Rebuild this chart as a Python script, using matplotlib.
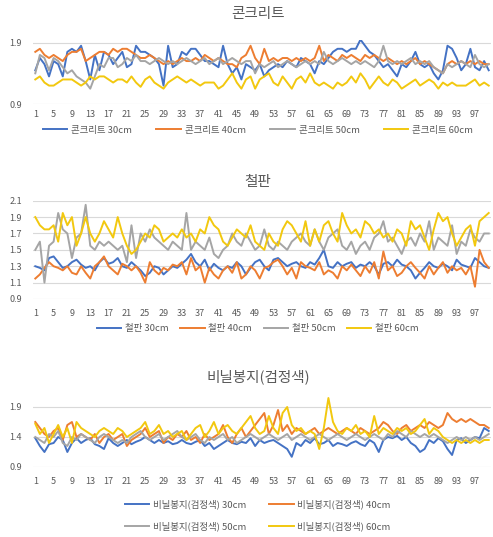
import matplotlib
matplotlib.use("Agg")
import matplotlib.pyplot as plt
import numpy as np

plt.rcParams['font.family'] = ['Noto Sans CJK KR', 'DejaVu Sans']

x = np.arange(1, 101)
tick_pos = list(range(1, 101, 4))
tick_labels = [str(t) for t in tick_pos]

# 콘크리트
con_30 = [1.45, 1.65, 1.55, 1.35, 1.60, 1.55, 1.35, 1.75, 1.80, 1.75,
          1.85, 1.60, 1.30, 1.70, 1.45, 1.75, 1.70, 1.55, 1.65, 1.75,
          1.50, 1.55, 1.85, 1.75, 1.75, 1.70, 1.65, 1.55, 1.20, 1.85,
          1.50, 1.55, 1.75, 1.70, 1.80, 1.80, 1.70, 1.60, 1.60, 1.55,
          1.50, 1.85, 1.55, 1.40, 1.50, 1.30, 1.55, 1.50, 1.45, 1.55,
          1.35, 1.45, 1.50, 1.55, 1.50, 1.60, 1.55, 1.50, 1.65, 1.60,
          1.55, 1.40, 1.60, 1.55, 1.65, 1.75, 1.80, 1.80, 1.75, 1.80,
          1.80, 1.95, 1.85, 1.75, 1.70, 1.60, 1.50, 1.55, 1.45, 1.35,
          1.55, 1.50, 1.60, 1.75, 1.55, 1.50, 1.55, 1.40, 1.30, 1.45,
          1.85, 1.80, 1.65, 1.45, 1.55, 1.80, 1.50, 1.45, 1.60, 1.45]
con_40 = [1.75, 1.80, 1.70, 1.65, 1.70, 1.65, 1.60, 1.70, 1.75, 1.75,
          1.80, 1.60, 1.65, 1.70, 1.75, 1.75, 1.70, 1.80, 1.75, 1.80,
          1.80, 1.75, 1.70, 1.65, 1.65, 1.70, 1.65, 1.60, 1.55, 1.60,
          1.55, 1.60, 1.65, 1.60, 1.60, 1.65, 1.60, 1.70, 1.65, 1.60,
          1.65, 1.60, 1.55, 1.55, 1.50, 1.65, 1.70, 1.85, 1.65, 1.55,
          1.80, 1.60, 1.65, 1.60, 1.65, 1.65, 1.60, 1.65, 1.60, 1.65,
          1.60, 1.65, 1.85, 1.60, 1.70, 1.65, 1.60, 1.70, 1.65, 1.70,
          1.65, 1.60, 1.70, 1.65, 1.70, 1.65, 1.60, 1.65, 1.60, 1.55,
          1.60, 1.55, 1.60, 1.65, 1.55, 1.60, 1.55, 1.50, 1.45, 1.40,
          1.55, 1.60, 1.55, 1.60, 1.55, 1.60, 1.55, 1.60, 1.55, 1.55]
con_50 = [1.40, 1.70, 1.65, 1.45, 1.65, 1.60, 1.50, 1.40, 1.45, 1.35,
          1.30, 1.25, 1.15, 1.35, 1.55, 1.50, 1.65, 1.65, 1.50, 1.55,
          1.65, 1.60, 1.70, 1.60, 1.60, 1.55, 1.60, 1.65, 1.60, 1.55,
          1.60, 1.55, 1.60, 1.65, 1.60, 1.55, 1.60, 1.65, 1.55, 1.60,
          1.65, 1.55, 1.60, 1.65, 1.60, 1.55, 1.60, 1.60, 1.40, 1.55,
          1.50, 1.55, 1.60, 1.50, 1.55, 1.60, 1.55, 1.50, 1.55, 1.60,
          1.55, 1.60, 1.55, 1.75, 1.60, 1.55, 1.60, 1.65, 1.60, 1.55,
          1.60, 1.55, 1.60, 1.55, 1.50, 1.60, 1.85, 1.60, 1.55, 1.60,
          1.55, 1.60, 1.65, 1.55, 1.60, 1.55, 1.60, 1.50, 1.45, 1.40,
          1.55, 1.50, 1.55, 1.60, 1.55, 1.50, 1.70, 1.55, 1.50, 1.55]
con_60 = [1.30, 1.35, 1.25, 1.20, 1.20, 1.25, 1.30, 1.30, 1.30, 1.25,
          1.20, 1.25, 1.35, 1.30, 1.35, 1.35, 1.30, 1.25, 1.30, 1.30,
          1.25, 1.35, 1.25, 1.18, 1.30, 1.35, 1.25, 1.20, 1.15, 1.25,
          1.30, 1.35, 1.30, 1.25, 1.30, 1.25, 1.20, 1.25, 1.25, 1.25,
          1.15, 1.20, 1.30, 1.40, 1.25, 1.15, 1.30, 1.35, 1.15, 1.30,
          1.35, 1.40, 1.25, 1.20, 1.35, 1.25, 1.15, 1.30, 1.35, 1.25,
          1.40, 1.25, 1.20, 1.25, 1.20, 1.15, 1.25, 1.20, 1.25, 1.35,
          1.25, 1.40, 1.30, 1.15, 1.25, 1.35, 1.25, 1.20, 1.30, 1.25,
          1.15, 1.20, 1.25, 1.30, 1.20, 1.25, 1.30, 1.25, 1.15, 1.25,
          1.20, 1.25, 1.20, 1.20, 1.20, 1.25, 1.30, 1.20, 1.25, 1.20]

# 철판
steel_30 = [1.30, 1.28, 1.25, 1.40, 1.42, 1.35, 1.28, 1.30, 1.35, 1.38,
            1.32, 1.28, 1.30, 1.25, 1.35, 1.40, 1.33, 1.35, 1.40, 1.30,
            1.28, 1.35, 1.30, 1.25, 1.18, 1.22, 1.30, 1.28, 1.20, 1.25,
            1.30, 1.28, 1.33, 1.38, 1.45, 1.35, 1.30, 1.38, 1.25, 1.33,
            1.28, 1.25, 1.30, 1.28, 1.35, 1.30, 1.20, 1.28, 1.35, 1.38,
            1.30, 1.25, 1.38, 1.40, 1.35, 1.30, 1.33, 1.35, 1.30, 1.28,
            1.35, 1.32, 1.40, 1.50, 1.30, 1.28, 1.35, 1.30, 1.33, 1.35,
            1.28, 1.32, 1.30, 1.35, 1.30, 1.20, 1.33, 1.35, 1.30, 1.38,
            1.32, 1.30, 1.25, 1.15, 1.22, 1.28, 1.35, 1.30, 1.28, 1.33,
            1.30, 1.25, 1.38, 1.32, 1.30, 1.28, 1.40, 1.35, 1.30, 1.28]
steel_40 = [1.15, 1.20, 1.28, 1.35, 1.30, 1.28, 1.25, 1.30, 1.22, 1.20,
            1.30, 1.22, 1.15, 1.30, 1.35, 1.42, 1.30, 1.25, 1.20, 1.33,
            1.30, 1.25, 1.30, 1.22, 1.10, 1.35, 1.25, 1.20, 1.28, 1.25,
            1.32, 1.30, 1.35, 1.20, 1.40, 1.25, 1.30, 1.10, 1.28, 1.20,
            1.15, 1.25, 1.30, 1.22, 1.35, 1.15, 1.20, 1.30, 1.25, 1.15,
            1.28, 1.30, 1.35, 1.38, 1.30, 1.20, 1.28, 1.15, 1.35, 1.30,
            1.28, 1.25, 1.35, 1.20, 1.25, 1.22, 1.15, 1.30, 1.25, 1.32,
            1.25, 1.18, 1.30, 1.22, 1.35, 1.15, 1.48, 1.25, 1.30, 1.18,
            1.22, 1.30, 1.35, 1.28, 1.22, 1.15, 1.30, 1.20, 1.28, 1.35,
            1.22, 1.30, 1.25, 1.28, 1.20, 1.30, 1.05, 1.50, 1.35, 1.28]
steel_50 = [1.50, 1.60, 1.10, 1.55, 1.60, 1.95, 1.75, 1.70, 1.40, 1.65,
            1.70, 2.05, 1.55, 1.50, 1.60, 1.55, 1.60, 1.55, 1.50, 1.55,
            1.35, 1.80, 1.40, 1.70, 1.60, 1.75, 1.65, 1.60, 1.55, 1.50,
            1.60, 1.55, 1.50, 1.95, 1.50, 1.60, 1.55, 1.50, 1.65, 1.45,
            1.40, 1.50, 1.55, 1.70, 1.60, 1.55, 1.70, 1.60, 1.50, 1.55,
            1.75, 1.55, 1.50, 1.60, 1.55, 1.50, 1.60, 1.65, 1.70, 1.60,
            1.55, 1.75, 1.60, 1.50, 1.65, 1.70, 1.75, 1.55, 1.50, 1.60,
            1.45, 1.55, 1.60, 1.50, 1.65, 1.70, 1.85, 1.60, 1.65, 1.55,
            1.45, 1.60, 1.65, 1.55, 1.70, 1.60, 1.85, 1.50, 1.65, 1.60,
            1.55, 1.80, 1.45, 1.60, 1.55, 1.75, 1.65, 1.60, 1.70, 1.70]
steel_60 = [1.90, 1.80, 1.75, 1.75, 1.80, 1.60, 1.95, 1.80, 1.90, 1.55,
            1.70, 1.90, 1.70, 1.60, 1.70, 1.85, 1.75, 1.65, 1.90, 1.70,
            1.55, 1.45, 1.50, 1.60, 1.70, 1.65, 1.80, 1.75, 1.60, 1.65,
            1.70, 1.65, 1.75, 1.65, 1.70, 1.60, 1.75, 1.70, 1.90, 1.80,
            1.75, 1.60, 1.55, 1.65, 1.75, 1.70, 1.65, 1.80, 1.60, 1.55,
            1.50, 1.70, 1.60, 1.55, 1.75, 1.85, 1.80, 1.70, 1.60, 1.85,
            1.55, 1.75, 1.60, 1.80, 1.85, 1.70, 1.60, 1.95, 1.80, 1.70,
            1.75, 1.65, 1.85, 1.80, 1.70, 1.75, 1.65, 1.70, 1.60, 1.75,
            1.70, 1.55, 1.85, 1.75, 1.80, 1.65, 1.50, 1.75, 1.95, 1.85,
            1.90, 1.70, 1.55, 1.65, 1.75, 1.80, 1.55, 1.85, 1.90, 1.95]

# 비닐봉지(검정색)
vinyl_30 = [1.38, 1.25, 1.15, 1.28, 1.30, 1.40, 1.35, 1.15, 1.30, 1.38,
            1.30, 1.35, 1.38, 1.28, 1.25, 1.20, 1.38, 1.30, 1.25, 1.30,
            1.35, 1.28, 1.32, 1.35, 1.40, 1.35, 1.30, 1.35, 1.30, 1.33,
            1.28, 1.30, 1.35, 1.30, 1.28, 1.32, 1.35, 1.25, 1.30, 1.20,
            1.25, 1.30, 1.35, 1.30, 1.28, 1.32, 1.30, 1.38, 1.25, 1.35,
            1.30, 1.33, 1.35, 1.30, 1.25, 1.20, 1.07, 1.30, 1.25, 1.35,
            1.30, 1.38, 1.28, 1.30, 1.35, 1.25, 1.30, 1.28, 1.25, 1.30,
            1.33, 1.28, 1.25, 1.35, 1.30, 1.15, 1.35, 1.40, 1.38, 1.42,
            1.35, 1.40, 1.30, 1.25, 1.15, 1.20, 1.35, 1.30, 1.38, 1.33,
            1.20, 1.10, 1.35, 1.38, 1.30, 1.35, 1.40, 1.38, 1.55, 1.50]
vinyl_40 = [1.65, 1.55, 1.45, 1.40, 1.50, 1.55, 1.35, 1.60, 1.65, 1.40,
            1.45, 1.40, 1.35, 1.45, 1.30, 1.40, 1.45, 1.35, 1.40, 1.45,
            1.25, 1.35, 1.40, 1.45, 1.55, 1.40, 1.45, 1.50, 1.30, 1.40,
            1.35, 1.45, 1.40, 1.50, 1.35, 1.40, 1.30, 1.45, 1.35, 1.40,
            1.45, 1.60, 1.40, 1.30, 1.45, 1.55, 1.40, 1.50, 1.60, 1.70,
            1.80, 1.45, 1.60, 1.85, 1.50, 1.60, 1.45, 1.55, 1.50, 1.45,
            1.50, 1.55, 1.45, 1.50, 1.55, 1.50, 1.45, 1.50, 1.55, 1.50,
            1.45, 1.55, 1.50, 1.45, 1.50, 1.55, 1.65, 1.60, 1.50, 1.45,
            1.55, 1.60, 1.50, 1.55, 1.60, 1.55, 1.65, 1.60, 1.55, 1.60,
            1.80, 1.70, 1.65, 1.70, 1.65, 1.70, 1.65, 1.60, 1.60, 1.55]
vinyl_50 = [1.40, 1.35, 1.30, 1.45, 1.40, 1.50, 1.30, 1.25, 1.40, 1.35,
            1.45, 1.40, 1.35, 1.30, 1.40, 1.45, 1.40, 1.35, 1.30, 1.35,
            1.30, 1.40, 1.45, 1.50, 1.40, 1.35, 1.40, 1.45, 1.35, 1.40,
            1.45, 1.50, 1.40, 1.35, 1.40, 1.45, 1.35, 1.30, 1.40, 1.35,
            1.40, 1.45, 1.35, 1.40, 1.30, 1.35, 1.40, 1.45, 1.40, 1.35,
            1.40, 1.45, 1.40, 1.35, 1.40, 1.45, 1.35, 1.40, 1.45, 1.40,
            1.35, 1.40, 1.45, 1.40, 1.35, 1.40, 1.45, 1.40, 1.35, 1.40,
            1.45, 1.40, 1.35, 1.40, 1.45, 1.40, 1.35, 1.45, 1.40, 1.50,
            1.45, 1.40, 1.50, 1.45, 1.40, 1.45, 1.40, 1.45, 1.40, 1.35,
            1.30, 1.35, 1.40, 1.35, 1.40, 1.35, 1.40, 1.35, 1.40, 1.45]
vinyl_60 = [1.62, 1.45, 1.55, 1.30, 1.45, 1.60, 1.40, 1.55, 1.30, 1.65,
            1.55, 1.50, 1.45, 1.40, 1.50, 1.55, 1.50, 1.45, 1.55, 1.50,
            1.40, 1.45, 1.50, 1.55, 1.65, 1.45, 1.50, 1.60, 1.45, 1.50,
            1.40, 1.45, 1.50, 1.35, 1.45, 1.55, 1.60, 1.40, 1.50, 1.65,
            1.45, 1.55, 1.60, 1.50, 1.45, 1.55, 1.65, 1.75, 1.55, 1.45,
            1.50, 1.75, 1.55, 1.45, 1.80, 1.90, 1.60, 1.50, 1.55, 1.45,
            1.50, 1.45, 1.20, 1.55, 2.05, 1.65, 1.50, 1.45, 1.55, 1.50,
            1.60, 1.45, 1.50, 1.40, 1.75, 1.45, 1.55, 1.50, 1.45, 1.55,
            1.50, 1.55, 1.45, 1.50, 1.60, 1.70, 1.45, 1.55, 1.50, 1.40,
            1.35, 1.30, 1.35, 1.30, 1.35, 1.30, 1.35, 1.30, 1.35, 1.35]

colors = ['#4472C4', '#ED7D31', '#A5A5A5', '#F2C80F']
text_color = '#595959'
W, H = 493, 537

fig = plt.figure(figsize=(W / 100, H / 100), dpi=100)


def add_chart(top_px, bottom_px, ylim, yticks, series, names, title, title_y,
              legend_y, ncol, xpad, colspace, rowspace=0.7):
    # axes placed in pixel coordinates of the original picture
    left, right = 33, 491
    ax = fig.add_axes([left / W, 1 - bottom_px / H, (right - left) / W,
                       (bottom_px - top_px) / H])
    for s, c, n in zip(series, colors, names):
        ax.plot(x, s, color=c, lw=1.4, label=n, solid_joinstyle='round')
    ax.set_xlim(0.5, 100.5)
    ax.set_ylim(*ylim)
    ax.set_yticks(yticks)
    ax.set_yticklabels([f"{v:.1f}" for v in yticks])
    ax.set_xticks(tick_pos)
    ax.set_xticklabels(tick_labels)
    ax.tick_params(axis='both', length=0, labelsize=6.5, colors=text_color)
    ax.tick_params(axis='x', pad=xpad)
    ax.tick_params(axis='y', pad=8)
    ax.grid(axis='y', color='#D9D9D9', lw=0.8)
    ax.set_axisbelow(True)
    for sp in ax.spines.values():
        sp.set_visible(False)
    fig.text(0.523, 1 - title_y / H, title, ha='center', va='center',
             fontsize=10.5, color=text_color)
    handles, labels = ax.get_legend_handles_labels()
    if ncol == 2:
        # rows: 30cm 40cm / 50cm 60cm
        order = [0, 2, 1, 3]
        handles = [handles[i] for i in order]
        labels = [labels[i] for i in order]
    fig.legend(handles, labels, loc='center', ncol=ncol,
               bbox_to_anchor=(0.523, 1 - legend_y / H), frameon=False,
               fontsize=6.8, labelcolor=text_color, handlelength=2.6,
               columnspacing=colspace, handletextpad=0.4,
               labelspacing=rowspace)
    return ax


add_chart(39.6, 104, (0.9, 1.95), [0.9, 1.9],
          [con_30, con_40, con_50, con_60],
          ['콘크리트 30cm', '콘크리트 40cm', '콘크리트 50cm', '콘크리트 60cm'],
          '콘크리트', 14, 130, 4, 4, 2.6)

add_chart(200.7, 299, (0.9, 2.1), [0.9, 1.1, 1.3, 1.5, 1.7, 1.9, 2.1],
          [steel_30, steel_40, steel_50, steel_60],
          ['철판 30cm', '철판 40cm', '철판 50cm', '철판 60cm'],
          '철판', 182, 329, 4, 7, 1.2)

add_chart(395, 467, (0.9, 2.1), [0.9, 1.4, 1.9],
          [vinyl_30, vinyl_40, vinyl_50, vinyl_60],
          ['비닐봉지(검정색) 30cm', '비닐봉지(검정색) 40cm',
           '비닐봉지(검정색) 50cm', '비닐봉지(검정색) 60cm'],
          '비닐봉지(검정색)', 377, 515.5, 2, 7, 2.4, 1.3)

fig.savefig('out.png', dpi=100)
